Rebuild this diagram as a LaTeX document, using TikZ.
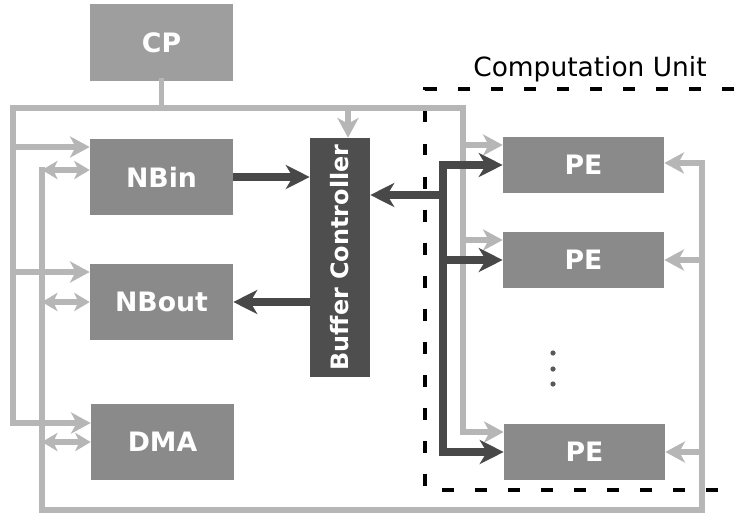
\documentclass[tikz,border=0pt]{standalone}
\usepackage{fontspec}
\setmainfont{DejaVu Sans}
\usetikzlibrary{arrows.meta,positioning}
\definecolor{unitgray}{RGB}{138,138,138}
\definecolor{cpgray}{RGB}{158,158,158}
\definecolor{bufgray}{RGB}{78,78,78}
\definecolor{ctlgray}{RGB}{182,182,182}
\definecolor{datgray}{RGB}{72,72,72}

\begin{document}
\begin{tikzpicture}[x=0.025cm, y=-0.025cm,
		unit/.style={fill=unitgray, text=white, inner sep=0pt,
			font=\fontsize{19}{22}\selectfont\bfseries,
			minimum width=3.575cm, minimum height=1.9cm},
		pe/.style={unit, minimum width=4.025cm, minimum height=1.4cm},
		bus/.style={draw=ctlgray, line width=4.2pt, line cap=rect},
		ctl/.style={draw=ctlgray, line width=4.2pt,
			-{Stealth[length=14pt, width=15pt, inset=4pt]}},
		bictl/.style={draw=ctlgray, line width=4.2pt,
			{Stealth[length=11pt, width=13pt, inset=3pt]}-{Stealth[length=11pt, width=13pt, inset=3pt]}},
		datbus/.style={draw=datgray, line width=5pt, line cap=rect},
		dat/.style={draw=datgray, line width=5pt,
			-{Stealth[length=17pt, width=17pt, inset=5pt]}},
		region/.style={draw=black, line width=2.2pt, dash pattern=on 8.5pt off 15pt}
	]
		\useasboundingbox (0,0) rectangle (734,513);

		\node[unit, fill=cpgray] (cp) at (161.5,42.5) {CP};
		\node[unit] (nbin) at (161.5,177) {NBin};
		\node[unit] (nbout) at (161.5,302) {NBout};
		\node[unit] (dma) at (162.5,442) {DMA};
		\node[unit, fill=bufgray, minimum width=1.5cm, minimum height=5.975cm,
			font=\fontsize{17}{20}\selectfont\bfseries] (buf) at (340,257.5)
			{\rotatebox{90}{Buffer Controller}};
		\node[pe] (pe1) at (583.5,165) {PE};
		\node[pe] (pe2) at (583.5,260) {PE};
		\node[pe] (pe3) at (584.5,452) {PE};
		\node[font=\fontsize{18.8}{22}\selectfont] (cu) at (590,69) {Computation Unit};

		\foreach \yy in {353,369,384}
			\fill[black!65] (553,\yy) circle (0.065cm);

		\draw[region] (734,89) -- (425,89) -- (425,490) -- (734,490);

		\coordinate (ctlL) at (13,108);
		\coordinate (ctlR) at (463,108);
		\coordinate (cl1) at (13,147);
		\coordinate (cl2) at (13,272);
		\coordinate (cl3) at (13,423);
		\coordinate (cr1) at (463,145);
		\coordinate (cr2) at (463,240);
		\coordinate (cr3) at (463,432);
		\coordinate (cb) at (348,108);

		\draw[bus] (cp.south) -- (cp.south |- ctlL);
		\draw[bus] (cl3) -- (ctlL) -- (ctlR) -- (cr3);
		\draw[ctl] (cb) -- (cb |- buf.north);
		\draw[ctl] (cl1) -- (cl1 -| nbin.west);
		\draw[ctl] (cl2) -- (cl2 -| nbout.west);
		\draw[ctl] (cl3) -- (cl3 -| dma.west);
		\draw[ctl] (cr1) -- (cr1 -| pe1.west);
		\draw[ctl] (cr2) -- (cr2 -| pe2.west);
		\draw[ctl] (cr3) -- (cr3 -| pe3.west);

		\coordinate (dl1) at (42,170);
		\coordinate (dl2) at (42,302);
		\coordinate (dl3) at (42,442);
		\coordinate (dlb) at (42,510);
		\coordinate (drb) at (702,510);
		\coordinate (dr1) at (702,163);
		\coordinate (dr2) at (702,260);
		\coordinate (dr3) at (702,452);

		\draw[bus] (dl1) -- (dlb) -- (drb) -- (dr1);
		\draw[bictl] (dl1) -- (dl1 -| nbin.west);
		\draw[bictl] (dl2) -- (dl2 -| nbout.west);
		\draw[bictl] (dl3) -- (dl3 -| dma.west);
		\draw[ctl] (dr1) -- (dr1 -| pe1.east);
		\draw[ctl] (dr2) -- (dr2 -| pe2.east);
		\draw[ctl] (dr3) -- (dr3 -| pe3.east);

		\coordinate (pj) at (443,195);
		\coordinate (pt) at (443,165);

		\draw[dat] (nbin.east) -- (nbin.east -| buf.west);
		\draw[dat] (buf.west |- nbout.east) -- (nbout.east);
		\draw[datbus] (pt |- pe1.west) -- (pt |- pe3.west);
		\draw[dat] (pj) -- (pj -| buf.east);
		\draw[dat] (pt |- pe1.west) -- (pe1.west);
		\draw[dat] (pt |- pe2.west) -- (pe2.west);
		\draw[dat] (pt |- pe3.west) -- (pe3.west);
	\end{tikzpicture}
\end{document}
